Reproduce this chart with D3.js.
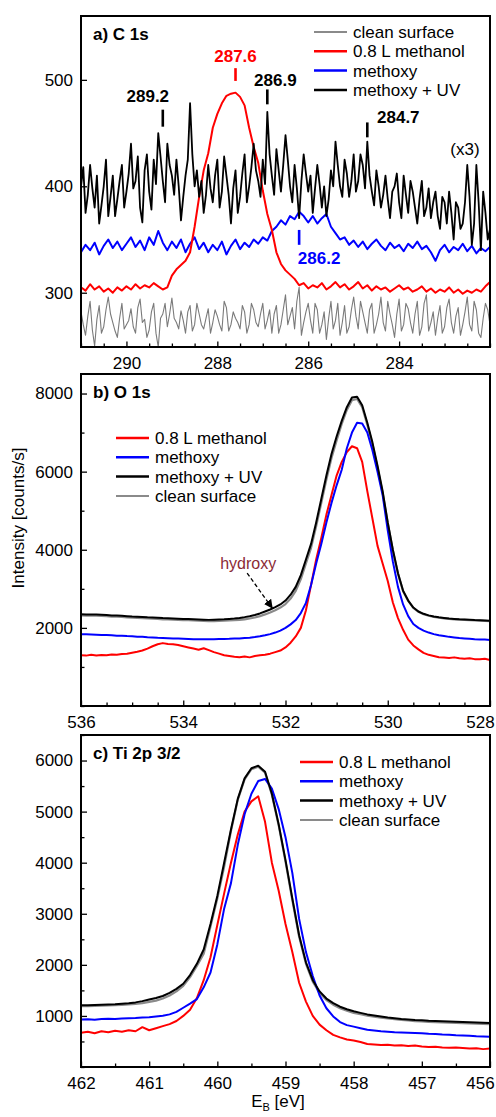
<!DOCTYPE html>
<html>
<head>
<meta charset="utf-8">
<style>
  body { margin: 0; background: #fff; }
  svg { display: block; font-family: "Liberation Sans", Arial, sans-serif; }
  .tick text { font-size: 17px; fill: #000; }
  .tick line { stroke: #000; stroke-width: 1.3; }
  .domain { display: none; }
</style>
</head>
<body>
<svg width="496" height="1117"></svg>
<script src="https://d3js.org/d3.v7.min.js"></script>
<script>
  // ---- data ----
  // a) C 1s, energies start at 291.0 eV and go down
  var aStart = 291, aStep = 0.1, aFineStep = 0.05;
  // clean surface and methoxy + UV are noisy, sampled every 0.05 eV
  var aClean = [282,270,260,278,292,265,250,275,288,262,
    268,284,296,280,272,264,258,276,290,266,
    270,274,285,268,262,286,294,272,275,258,
    265,282,290,262,249,276,280,290,268,280,
    295,276,272,266,283,274,262,282,288,264,
    270,290,280,270,266,276,285,262,272,284,
    278,270,264,292,286,264,270,282,276,272,
    266,288,282,262,270,290,284,272,268,280,
    290,266,274,284,262,280,288,262,270,284,
    298,270,278,286,266,292,305,260,272,282,
    290,274,262,290,284,262,270,282,256,276,
    292,266,274,290,260,272,288,262,268,284,
    296,278,266,292,282,272,262,284,290,262,
    270,280,296,272,264,292,280,270,258,280,
    294,264,270,290,285,272,262,280,292,260,
    268,290,298,264,272,282,260,276,288,262,
    268,286,294,272,262,278,286,260,270,282,
    296,270,264,292,284,262,258,276,290,284,
    270];
  var aUV = [400,418,375,392,420,398,380,410,365,382,
    400,425,372,390,410,372,388,405,420,380,
    395,412,440,398,405,428,380,366,415,430,
    395,378,425,402,450,428,405,385,440,420,
    410,392,425,400,368,390,410,425,478,430,
    400,415,390,405,375,392,420,398,385,410,
    425,380,395,428,410,392,365,398,415,375,
    390,412,430,385,400,418,440,415,405,390,
    425,402,470,430,410,392,435,415,395,420,
    448,425,400,385,420,398,370,405,430,412,
    395,410,375,398,420,402,380,400,372,388,
    415,400,442,420,400,390,425,412,390,405,
    430,395,405,430,420,398,442,410,395,382,
    415,400,380,392,410,388,370,395,400,412,
    385,370,410,392,375,405,395,380,365,388,
    405,372,380,398,370,385,395,372,360,390,
    385,365,395,375,350,385,380,360,365,385,
    420,390,345,365,420,385,340,395,375,350,
    360];
  // methanol and methoxy sampled every 0.1 eV
  var aMethanol = [305,302,308,303,306,301,304,300,305,302,
    306,303,308,304,307,305,309,306,303,305,
    316,322,326,330,338,362,390,415,431,455,
    468,478,485,487,488,484,476,455,437,422,
    396,374,359,338,327,321,317,313,307,309,
    304,307,305,309,303,306,310,305,308,303,
    306,310,304,307,302,306,303,305,301,304,
    307,303,305,301,303,306,301,304,300,303,
    301,305,300,303,299,302,300,303,301,306,
    310];
  var aMethoxy = [338,345,340,347,336,344,350,342,348,340,
    346,352,343,349,340,352,345,358,347,340,
    348,342,350,338,346,352,341,347,338,345,
    340,348,336,344,350,341,347,343,350,346,
    352,349,358,362,368,364,372,369,376,372,
    366,372,365,370,374,362,356,350,352,345,
    349,343,348,341,346,350,344,340,347,342,
    345,339,346,342,348,341,344,338,330,340,
    345,338,343,340,346,339,344,337,342,339,
    343];
  var aXTicks = [290, 288, 286, 284];
  var aYTicks = [300, 400, 500];
  var aLegend = ["clean surface", "0.8 L methanol", "methoxy", "methoxy + UV"];
  // peak markers: energy, marker bottom/top value, label
  var aMarkE = [289.2, 287.6, 286.9, 284.7, 286.2];
  var aMarkLo = [456, 499, 477, 446, 345];
  var aMarkHi = [472, 511, 491, 460, 359];
  var aMarkLabel = ["289.2", "287.6", "286.9", "284.7", "286.2"];

  // b) O 1s, energies 536.0 -> 528.0 in 0.1 eV steps
  var bStart = 536, bStep = 0.1;
  var bMethanol = [1300,1290,1310,1295,1305,1300,1320,1310,1330,1340,
    1365,1390,1420,1470,1530,1580,1610,1590,1580,1560,
    1530,1500,1470,1440,1480,1430,1380,1340,1300,1280,
    1260,1250,1270,1245,1280,1300,1310,1340,1380,1420,
    1500,1620,1780,2000,2450,3100,3750,4300,4900,5400,
    5900,6250,6500,6650,6600,6250,5500,4800,4100,3650,
    3200,2650,2250,1950,1700,1550,1450,1360,1310,1280,
    1250,1240,1230,1245,1220,1210,1225,1200,1195,1210,
    1180];
  var bMethoxy = [1840,1835,1830,1825,1820,1815,1810,1800,1800,1790,
    1785,1775,1770,1760,1755,1745,1740,1735,1730,1725,
    1720,1715,1712,1710,1710,1710,1712,1715,1718,1720,
    1725,1730,1740,1750,1765,1785,1810,1840,1880,1930,
    2000,2090,2200,2380,2640,3100,3650,4150,4700,5200,
    5650,6050,6600,7000,7250,7230,7000,6550,6000,5400,
    4500,3700,3050,2600,2300,2100,2000,1930,1880,1840,
    1810,1790,1770,1755,1740,1730,1720,1710,1705,1700,
    1690];
  var bUV = [2350,2345,2340,2340,2335,2330,2320,2315,2310,2300,
    2290,2285,2280,2270,2265,2260,2250,2245,2240,2235,
    2230,2225,2220,2215,2210,2205,2210,2215,2220,2230,
    2240,2255,2275,2300,2330,2370,2420,2470,2530,2600,
    2700,2850,3050,3350,3750,4150,4700,5300,5900,6450,
    6900,7300,7650,7900,7920,7700,7250,6750,6150,5500,
    4700,4000,3400,2950,2700,2520,2420,2360,2320,2290,
    2270,2255,2240,2230,2220,2215,2210,2200,2195,2190,
    2180];
  var bClean = [2320,2315,2310,2310,2305,2300,2290,2285,2280,2270,
    2260,2255,2250,2240,2235,2230,2220,2215,2210,2205,
    2200,2195,2190,2185,2180,2175,2175,2180,2185,2190,
    2195,2205,2220,2240,2265,2300,2345,2395,2450,2520,
    2610,2750,2950,3250,3650,4050,4600,5200,5800,6350,
    6800,7220,7580,7830,7860,7650,7200,6700,6100,5450,
    4680,3980,3390,2940,2690,2510,2410,2350,2310,2280,
    2260,2245,2230,2220,2210,2205,2200,2190,2185,2180,
    2170];
  var bXTicks = [536, 534, 532, 530, 528];
  var bYTicks = [2000, 4000, 6000, 8000];
  var bLegend = ["0.8 L methanol", "methoxy", "methoxy + UV", "clean surface"];
  // hydroxy arrow: from (E, value) to (E, value)
  var hydroxyFrom = [532.75, 3400];
  var hydroxyTo = [532.26, 2510];

  // c) Ti 2p 3/2, energies 462.0 -> 456.0 in 0.1 eV steps
  var cStart = 462, cStep = 0.1;
  var cMethanol = [670,690,660,700,680,710,690,720,700,780,
    720,760,800,840,900,1000,1120,1350,1700,2150,
    2780,3400,4000,4550,5000,5200,5300,4800,4000,3450,
    2800,2250,1650,1280,1000,830,720,630,580,540,
    520,490,450,440,430,435,420,425,410,420,
    400,390,395,380,375,380,370,360,365,350,
    360];
  var cMethoxy = [930,935,925,940,945,940,950,955,960,970,
    975,990,1005,1030,1080,1160,1240,1330,1560,1850,
    2400,3100,3600,4350,4950,5350,5600,5640,5450,5050,
    4500,3800,2900,2250,1780,1400,1150,990,880,820,
    790,760,730,715,700,690,680,675,670,665,
    660,650,645,635,630,620,615,610,600,595,
    590];
  var cUV = [1210,1210,1215,1220,1225,1230,1240,1250,1265,1290,
    1320,1350,1390,1450,1530,1630,1800,2020,2300,2800,
    3350,4000,4650,5250,5650,5850,5900,5780,5350,4750,
    4050,3300,2580,2050,1700,1480,1340,1250,1180,1130,
    1090,1060,1030,1010,990,970,955,940,930,920,
    915,905,900,895,890,885,880,875,870,865,
    860];
  var cClean = [1190,1190,1195,1200,1205,1210,1215,1225,1235,1250,
    1275,1300,1340,1400,1480,1590,1760,1980,2220,2750,
    3300,3920,4620,5230,5630,5830,5880,5760,5330,4730,
    4020,3270,2550,2020,1670,1450,1310,1220,1150,1100,
    1060,1035,1005,985,965,950,935,920,910,900,
    895,885,880,875,870,865,860,855,850,845,
    840];
  var cXTicks = [462, 461, 460, 459, 458, 457, 456];
  var cYTicks = [1000, 2000, 3000, 4000, 5000, 6000];
  var cLegend = ["0.8 L methanol", "methoxy", "methoxy + UV", "clean surface"];

  // ---- drawing ----
  var svg = d3.select("svg");
  var left = 81, right = 490;
  var RED = "#ff0000", BLUE = "#0000ff", BLACK = "#000000", GRAY = "#8a8a8a";

  function minorTicks(domain, step, majors) {
    var lo = d3.min(domain), hi = d3.max(domain), out = [];
    for (var v = Math.ceil(lo / step) * step; v <= hi + 1e-9; v += step) {
      var r = Math.round(v * 1000) / 1000;
      if (majors.indexOf(r) < 0) out.push(r);
    }
    return out;
  }

  function panel(o) {
    var x = d3.scaleLinear().domain(o.xDomain).range([left, right]);
    var y = d3.scaleLinear().domain(o.yDomain).range([o.bottom, o.top]);
    var g = svg.append("g");
    var id = "clip" + o.name;
    svg.append("clipPath").attr("id", id).append("rect")
      .attr("x", left).attr("y", o.top).attr("width", right - left).attr("height", o.bottom - o.top);

    // axes
    var xa = g.append("g").attr("transform", "translate(0," + o.bottom + ")")
      .call(d3.axisBottom(x).tickValues(o.xTicks).tickSize(-5.5).tickPadding(10).tickFormat(d3.format("d")));
    // the label at the right edge sits a little inside the page
    xa.selectAll(".tick text").filter(function(d) { return x(d) > right - 2; }).attr("dx", -10);
    g.append("g").attr("transform", "translate(0," + o.bottom + ")")
      .call(d3.axisBottom(x).tickValues(minorTicks(o.xDomain, o.xMinorStep, o.xTicks)).tickSize(-3.5).tickFormat(""));
    g.append("g").attr("transform", "translate(" + left + ",0)")
      .call(d3.axisLeft(y).tickValues(o.yTicks).tickSize(-6).tickPadding(8).tickFormat(d3.format("d")));
    if (o.yMinorStep) {
      g.append("g").attr("transform", "translate(" + left + ",0)")
        .call(d3.axisLeft(y).tickValues(minorTicks(o.yDomain, o.yMinorStep, o.yTicks)).tickSize(-3.5).tickFormat(""));
    }

    // spectra
    var line = d3.line().x(function(d) { return x(d[0]); }).y(function(d) { return y(d[1]); });
    var lines = g.append("g").attr("clip-path", "url(#" + id + ")");
    o.series.forEach(function(s) {
      var pts = s.values.map(function(v, i) { return [o.start - i * s.step, v]; });
      lines.append("path").datum(pts)
        .attr("fill", "none").attr("stroke", s.color)
        .attr("stroke-width", s.width).attr("stroke-linejoin", "round")
        .attr("d", line);
    });

    // frame
    g.append("rect").attr("x", left).attr("y", o.top)
      .attr("width", right - left).attr("height", o.bottom - o.top)
      .attr("fill", "none").attr("stroke", "#000").attr("stroke-width", 2);

    // panel title
    g.append("text").attr("x", left + 12).attr("y", o.top + 24)
      .attr("font-size", 17).attr("font-weight", "bold").text(o.title);

    // legend
    var lg = g.append("g").attr("font-size", 17);
    o.legend.forEach(function(name, i) {
      var s = o.legendStyle[i];
      var cy = o.legendY + i * 19.3;
      lg.append("line").attr("x1", o.legendX).attr("x2", o.legendX + 33)
        .attr("y1", cy).attr("y2", cy)
        .attr("stroke", s.color).attr("stroke-width", s.lw);
      lg.append("text").attr("x", o.legendX + 39).attr("y", cy + 6).text(name);
    });
    return { x: x, y: y, g: g };
  }

  var styleA = [{ color: GRAY, lw: 2 }, { color: RED, lw: 2.5 }, { color: BLUE, lw: 2.5 }, { color: BLACK, lw: 2.5 }];
  var styleBC = [{ color: RED, lw: 2.5 }, { color: BLUE, lw: 2.5 }, { color: BLACK, lw: 2.5 }, { color: GRAY, lw: 2 }];

  var pa = panel({
    name: "a", title: "a) C 1s", top: 16, bottom: 347,
    xDomain: [291, 282], yDomain: [249, 560], xTicks: aXTicks, yTicks: aYTicks,
    xMinorStep: 0.5, yMinorStep: 0, start: aStart,
    series: [
      { values: aClean, step: aFineStep, color: "#7a7a7a", width: 1.1 },
      { values: aMethoxy, step: aStep, color: BLUE, width: 2 },
      { values: aMethanol, step: aStep, color: RED, width: 2 },
      { values: aUV, step: aFineStep, color: BLACK, width: 1.8 }
    ],
    legend: aLegend, legendStyle: styleA, legendX: 314, legendY: 32
  });

  // C 1s peak markers
  var markColor = [BLACK, RED, BLACK, BLACK, BLUE];
  var markDx = [-15, 0, 8, 31, 20];
  aMarkE.forEach(function(e, i) {
    var mx = pa.x(e);
    pa.g.append("line").attr("x1", mx).attr("x2", mx)
      .attr("y1", pa.y(aMarkLo[i])).attr("y2", pa.y(aMarkHi[i]))
      .attr("stroke", markColor[i]).attr("stroke-width", 2.6);
    var below = i === 4;
    pa.g.append("text").attr("x", mx + markDx[i])
      .attr("y", below ? pa.y(aMarkLo[i]) + 19 : pa.y(aMarkHi[i]) - [8, 6, 3, -1][i])
      .attr("text-anchor", "middle").attr("font-size", 17).attr("font-weight", "bold")
      .attr("fill", markColor[i]).text(aMarkLabel[i]);
  });
  pa.g.append("text").attr("x", pa.x(282.55)).attr("y", pa.y(429))
    .attr("text-anchor", "middle").attr("font-size", 17).text("(x3)");

  var pb = panel({
    name: "b", title: "b) O 1s", top: 374, bottom: 706,
    xDomain: [536, 528], yDomain: [0, 8500], xTicks: bXTicks, yTicks: bYTicks,
    xMinorStep: 0.5, yMinorStep: 1000, start: bStart,
    series: [
      { values: bClean, step: bStep, color: GRAY, width: 2.2 },
      { values: bMethanol, step: bStep, color: RED, width: 2 },
      { values: bMethoxy, step: bStep, color: BLUE, width: 2 },
      { values: bUV, step: bStep, color: BLACK, width: 2 }
    ],
    legend: bLegend, legendStyle: styleBC, legendX: 116, legendY: 438
  });

  // hydroxy annotation
  var defs = svg.append("defs");
  defs.append("marker").attr("id", "arrow").attr("viewBox", "0 0 10 10")
    .attr("refX", 9).attr("refY", 5).attr("markerWidth", 9).attr("markerHeight", 9)
    .attr("markerUnits", "userSpaceOnUse").attr("orient", "auto")
    .append("path").attr("d", "M0,0L10,5L0,10z").attr("fill", "#000");
  pb.g.append("line")
    .attr("x1", pb.x(hydroxyFrom[0])).attr("y1", pb.y(hydroxyFrom[1]))
    .attr("x2", pb.x(hydroxyTo[0])).attr("y2", pb.y(hydroxyTo[1]))
    .attr("stroke", "#000").attr("stroke-width", 1.3).attr("stroke-dasharray", "4,2.5")
    .attr("marker-end", "url(#arrow)");
  pb.g.append("text").attr("x", pb.x(hydroxyFrom[0]) + 1).attr("y", pb.y(hydroxyFrom[1]) - 4)
    .attr("text-anchor", "middle").attr("font-size", 16).attr("fill", "#8b2a35").text("hydroxy");

  var pc = panel({
    name: "c", title: "c) Ti 2p 3/2", top: 735, bottom: 1067,
    xDomain: [462, 456], yDomain: [0, 6500], xTicks: cXTicks, yTicks: cYTicks,
    xMinorStep: 0.5, yMinorStep: 500, start: cStart,
    series: [
      { values: cClean, step: cStep, color: GRAY, width: 2.2 },
      { values: cMethanol, step: cStep, color: RED, width: 2 },
      { values: cMethoxy, step: cStep, color: BLUE, width: 2 },
      { values: cUV, step: cStep, color: BLACK, width: 2 }
    ],
    legend: cLegend, legendStyle: styleBC, legendX: 300, legendY: 762
  });

  // axis titles
  svg.append("text").attr("transform", "translate(24,518) rotate(-90)")
    .attr("text-anchor", "middle").attr("font-size", 17).text("Intensity [counts/s]");
  var xt = svg.append("text").attr("x", 278).attr("y", 1107)
    .attr("text-anchor", "middle").attr("font-size", 17);
  xt.append("tspan").text("E");
  xt.append("tspan").attr("font-size", 11).attr("dy", 4).text("B");
  xt.append("tspan").attr("dy", -4).text(" [eV]");
</script>
</body>
</html>
